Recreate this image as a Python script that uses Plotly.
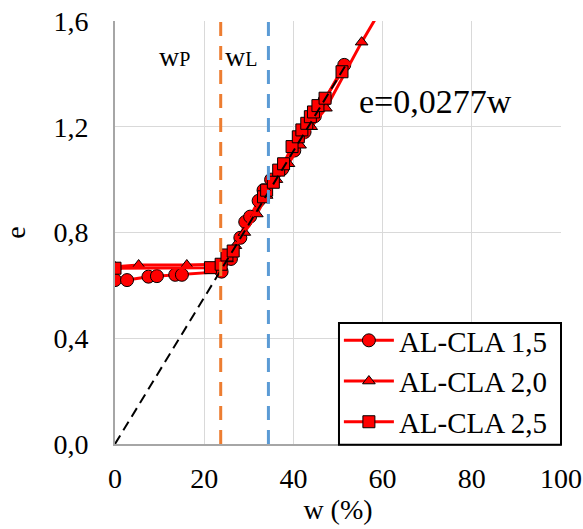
import plotly.graph_objects as go

# Data
w_15 = [0, 2.7, 7.5, 9.4, 13.5, 15.0, 23.9, 26.0, 28.1, 29.2, 30.3, 32.2, 33.3, 35.0, 37.5, 40.2, 42.5, 44.8, 47.0, 51.4]
e_15 = [0.62, 0.62, 0.633, 0.635, 0.64, 0.64, 0.652, 0.70, 0.78, 0.84, 0.86, 0.92, 0.96, 1.00, 1.04, 1.11, 1.18, 1.24, 1.30, 1.434]

w_20 = [0, 5.3, 16.1, 23.0, 25.1, 27.0, 29.0, 31.8, 34.0, 36.2, 38.9, 41.5, 44.0, 47.3, 55.3, 59.5]
e_20 = [0.67, 0.677, 0.677, 0.68, 0.70, 0.75, 0.80, 0.87, 0.94, 1.00, 1.06, 1.13, 1.20, 1.27, 1.52, 1.64]

w_25 = [0, 21.4, 23.8, 25.1, 26.5, 33.3, 34.0, 35.5, 36.7, 37.8, 39.7, 41.1, 41.9, 43.0, 43.8, 44.5, 45.5, 47.1, 50.9]
e_25 = [0.665, 0.667, 0.68, 0.715, 0.73, 0.935, 0.96, 0.99, 1.036, 1.06, 1.125, 1.162, 1.188, 1.213, 1.238, 1.256, 1.28, 1.308, 1.408]

fit_slope = 0.0277
fit_w = [0, 52]
wP = 23.7
wL = 34.4

x_ticks = [0, 20, 40, 60, 80, 100]
y_ticks = [0, 0.4, 0.8, 1.2, 1.6]

FONT = "'Liberation Serif', 'Times New Roman', 'DejaVu Serif', serif"

fig = go.Figure()

series = [
    ("AL-CLA 1,5", w_15, e_15, "circle", 13),
    ("AL-CLA 2,0", w_20, e_20, "triangle-up", 11),
    ("AL-CLA 2,5", w_25, e_25, "square", 12),
]
for name, xs, ys, sym, sz in series:
    fig.add_trace(go.Scatter(
        x=xs, y=ys, name=name, mode="lines+markers",
        line=dict(color="#ff0000", width=3),
        marker=dict(symbol=sym, size=sz, color="#ff0000",
                    line=dict(color="black", width=1)),
    ))

fig.add_trace(go.Scatter(
    x=fit_w, y=[fit_slope * v for v in fit_w], mode="lines",
    line=dict(color="black", width=2, dash="10px,6px"),
    showlegend=False, hoverinfo="skip",
))
fig.add_trace(go.Scatter(
    x=[wP, wP], y=[0, 1.6], mode="lines",
    line=dict(color="#ED7D31", width=3, dash="14px,10px"),
    showlegend=False, hoverinfo="skip",
))
fig.add_trace(go.Scatter(
    x=[wL, wL], y=[0, 1.6], mode="lines",
    line=dict(color="#5B9BD5", width=3, dash="14px,10px"),
    showlegend=False, hoverinfo="skip",
))

fig.add_annotation(x=13.3, y=1.464, xref="x", yref="y", showarrow=False,
                   text="w<span style='font-size:20px'>P</span>",
                   font=dict(family=FONT, size=28, color="black"))
fig.add_annotation(x=28.3, y=1.464, xref="x", yref="y", showarrow=False,
                   text="w<span style='font-size:20px'>L</span>",
                   font=dict(family=FONT, size=28, color="black"))
fig.add_annotation(x=71.8, y=1.294, xref="x", yref="y", showarrow=False,
                   text="e=0,0277w",
                   font=dict(family=FONT, size=34, color="black"))

# legend frame
fig.add_shape(type="rect", xref="paper", yref="paper",
              x0=0.5022, x1=1.0, y0=-0.002, y1=0.286,
              fillcolor="white", line=dict(color="black", width=2),
              layer="above")

fig.update_layout(
    width=583, height=529,
    margin=dict(l=115, r=22, t=21, b=85),
    paper_bgcolor="white", plot_bgcolor="white",
    separators=",.",
    font=dict(family=FONT, size=28, color="black"),
    showlegend=True,
    legend=dict(
        x=0.502, y=0.305, xanchor="left", yanchor="top",
        bgcolor="rgba(0,0,0,0)", borderwidth=0,
        font=dict(family=FONT, size=29, color="black"),
        tracegroupgap=0, itemwidth=50,
    ),
    xaxis=dict(
        range=[0, 100], tickvals=x_ticks, tickformat="d",
        showgrid=True, gridcolor="#d9d9d9", gridwidth=1,
        showline=True, linecolor="#a6a6a6", linewidth=2,
        zeroline=False, ticks="", ticklabelstandoff=8,
        title=dict(text="w (%)", standoff=4, font=dict(family=FONT, size=28)),
        automargin=False,
    ),
    yaxis=dict(
        range=[0, 1.6], tickvals=y_ticks, tickformat=".1f",
        showgrid=True, gridcolor="#d9d9d9", gridwidth=1,
        showline=True, linecolor="#a6a6a6", linewidth=2,
        zeroline=False, ticks="", ticklabelstandoff=19,
        title=dict(text="e", standoff=22, font=dict(family=FONT, size=28)),
        automargin=False,
    ),
)

fig.write_html("out.html", config={"displayModeBar": False},
               post_script="document.body.style.margin='0';")
